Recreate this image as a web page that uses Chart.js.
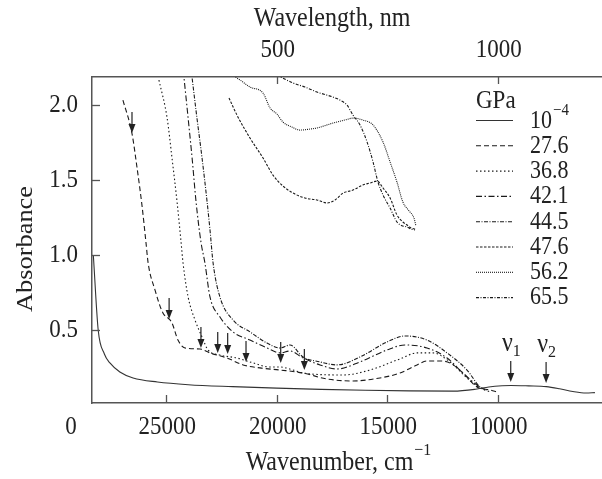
<!DOCTYPE html>
<html>
<head>
<meta charset="utf-8">
<script src="https://cdn.jsdelivr.net/npm/chart.js@4.4.1/dist/chart.umd.min.js"></script>
<style>
  html, body { margin: 0; padding: 0; background: #ffffff; }
  canvas { display: block; }
</style>
</head>
<body>
<canvas id="c" width="602" height="479"></canvas>
<script>
// ---------- data (wavenumber in cm^-1, absorbance) ----------
const seriesLabels = ['10^-4', '27.6', '36.8', '42.1', '44.5', '47.6', '56.2', '65.5'];

const wn_0 = [28300, 28080, 27800, 27550, 27100, 26500, 25400, 24000, 22000, 20000, 18000, 16000, 14000, 12000, 11000, 10400, 9800, 9400, 8600, 7800, 7200, 6600, 6000, 5600];
const abs_0 = [1.0, 0.5, 0.34, 0.28, 0.22, 0.18, 0.153, 0.135, 0.122, 0.112, 0.104, 0.098, 0.094, 0.092, 0.105, 0.12, 0.128, 0.13, 0.127, 0.122, 0.108, 0.09, 0.08, 0.082];

const wn_276 = [26960, 26550, 26320, 26100, 25920, 25820, 25510, 25150, 24870, 24740, 24470, 24150, 23470, 23020, 22250, 21520, 20760, 19850, 18810, 17720, 16550, 15330, 14420, 13650, 13200, 12610, 12160, 11570, 10940, 10350, 10030];
const abs_276 = [2.033, 1.81, 1.58, 1.333, 1.087, 0.947, 0.767, 0.613, 0.573, 0.547, 0.433, 0.38, 0.373, 0.347, 0.313, 0.267, 0.247, 0.233, 0.213, 0.173, 0.16, 0.18, 0.213, 0.267, 0.293, 0.293, 0.28, 0.213, 0.12, 0.1, 0.087];

const wn_368 = [25330, 24960, 24740, 24510, 24330, 24240, 24010, 23700, 23380, 23110, 22570, 21800, 21210, 20300, 19850, 19260, 18810, 17000, 15780, 14420, 13650, 12930, 12160, 11390, 10800, 10350];
const abs_368 = [2.167, 1.913, 1.647, 1.353, 1.087, 0.947, 0.72, 0.567, 0.453, 0.367, 0.333, 0.313, 0.287, 0.253, 0.253, 0.233, 0.213, 0.2, 0.233, 0.307, 0.347, 0.347, 0.287, 0.18, 0.113, 0.087];

const wn_421 = [24230, 24010, 23830, 23650, 23430, 23250, 23020, 22570, 21980, 21210, 20440, 19850, 19400, 18810, 18040, 17270, 16230, 15010, 14200, 13200, 12290, 11570, 10940, 10580];
const abs_421 = [2.23, 1.913, 1.647, 1.353, 1.087, 0.947, 0.72, 0.587, 0.487, 0.433, 0.38, 0.347, 0.36, 0.313, 0.267, 0.24, 0.287, 0.367, 0.4, 0.38, 0.313, 0.213, 0.133, 0.1];

const wn_445 = [23870, 23610, 23380, 23150, 23020, 22880, 22570, 21980, 21210, 20440, 19850, 19400, 18810, 18040, 17270, 16230, 15010, 14200, 13200, 12290, 11390, 10800, 10480];
const abs_445 = [2.23, 1.913, 1.647, 1.353, 1.167, 0.947, 0.72, 0.567, 0.487, 0.413, 0.38, 0.40, 0.32, 0.287, 0.267, 0.32, 0.42, 0.46, 0.433, 0.347, 0.233, 0.12, 0.1];

const wn_476 = [22160, 21800, 21210, 20620, 20170, 19720, 19260, 18720, 18180, 17720, 17360, 17000, 16550, 16100, 15780, 15460, 15190, 14870, 14560, 14290, 14100, 13920, 13740];
const abs_476 = [2.047, 1.933, 1.78, 1.647, 1.533, 1.46, 1.413, 1.38, 1.367, 1.347, 1.367, 1.413, 1.433, 1.467, 1.48, 1.493, 1.447, 1.38, 1.267, 1.22, 1.2, 1.18, 1.173];

const wn_562 = [22020, 21660, 21210, 20620, 20300, 19990, 19720, 19310, 18950, 18490, 18180, 17450, 16910, 16550, 16100, 15640, 15190, 14870, 14560, 14290, 13970, 13790, 13700];
const abs_562 = [2.2, 2.167, 2.12, 2.08, 1.98, 1.94, 1.887, 1.853, 1.833, 1.84, 1.847, 1.88, 1.9, 1.913, 1.9, 1.867, 1.753, 1.62, 1.487, 1.353, 1.287, 1.247, 1.193];

const wn_655 = [20000, 19260, 18720, 18180, 17450, 17140, 16820, 16550, 16230, 15910, 15640, 15420, 15190, 14870, 14560, 14290, 14100, 13920, 13740];
const abs_655 = [2.2, 2.147, 2.12, 2.087, 2.053, 2.033, 2.0, 1.933, 1.867, 1.753, 1.62, 1.487, 1.4, 1.313, 1.22, 1.193, 1.187, 1.173, 1.167];

// arrows marking features (wavenumber, absorbance at arrow tip)
const arrowWn = [26550, 24870, 23430, 22670, 22220, 21390, 19820, 18750, 9410, 7810];
const arrowAbs = [1.813, 0.573, 0.38, 0.347, 0.34, 0.287, 0.28, 0.233, 0.153, 0.147];
const nuLabels = ['', '', '', '', '', '', '', '', '1', '2'];

// ticks
const xTicks = [25000, 20000, 15000, 10000];
const yTicks = [0.5, 1.0, 1.5, 2.0];
const nmTicks = [500, 1000];

// ---------- build ----------
const wnSets = [wn_0, wn_276, wn_368, wn_421, wn_445, wn_476, wn_562, wn_655];
const absSets = [abs_0, abs_276, abs_368, abs_421, abs_445, abs_476, abs_562, abs_655];
const dashes = [[], [5, 3], [1.5, 2.5], [6, 2.5, 1.5, 2.5], [4, 1.5, 1, 1.5], [2.5, 1.5], [1, 1], [3, 1.5, 1, 1.5]];
const colors = ['#333', '#1a1a1a', '#1a1a1a', '#1a1a1a', '#1a1a1a', '#1a1a1a', '#1a1a1a', '#1a1a1a'];

const datasets = seriesLabels.map((lab, i) => ({
  label: lab,
  data: wnSets[i].map((w, j) => ({ x: w, y: absSets[i][j] })),
  borderColor: colors[i],
  borderWidth: 1.1,
  borderDash: dashes[i],
  pointRadius: 0,
  fill: false,
  cubicInterpolationMode: 'monotone'
}));

const FONT = '"Liberation Serif", "Times New Roman", serif';
const INK = '#222';
const AXIS = '#555';
const STRETCH = 1.1; // reference text is slightly taller than wide

// draw text vertically stretched, centered vertically at y
function txt(ctx, s, x, y, size, align) {
  ctx.save();
  ctx.translate(x, y);
  ctx.scale(1, STRETCH);
  ctx.font = size + 'px ' + FONT;
  ctx.textAlign = align || 'center';
  ctx.textBaseline = 'middle';
  ctx.fillText(s, 0, 0);
  ctx.restore();
}
function tw(ctx, s, size) { ctx.font = size + 'px ' + FONT; return ctx.measureText(s).width; }

const decor = {
  id: 'decor',
  afterDraw(chart) {
    const ctx = chart.ctx, ca = chart.chartArea;
    const xs = chart.scales.x, ys = chart.scales.y, xt = chart.scales.x2;
    ctx.save();
    // inward tick marks
    ctx.strokeStyle = AXIS; ctx.lineWidth = 1.3;
    const seg = (a, b, c, d) => { ctx.beginPath(); ctx.moveTo(a, b); ctx.lineTo(c, d); ctx.stroke(); };
    xs.ticks.forEach(t => { const p = Math.round(xs.getPixelForValue(t.value)) + 0.5; seg(p, ca.bottom, p, ca.bottom - 8); });
    xt.ticks.forEach(t => { const p = Math.round(xt.getPixelForValue(t.value)) + 0.5; seg(p, ca.top, p, ca.top + 7); });
    ys.ticks.forEach(t => { const p = Math.round(ys.getPixelForValue(t.value)) + 0.5; seg(ca.left, p, ca.left + 8, p); });

    ctx.fillStyle = INK;
    // tick labels
    xs.ticks.forEach(t => txt(ctx, String(t.value), xs.getPixelForValue(t.value) + 1, ca.bottom + 24.5, 23, 'center'));
    xt.ticks.forEach(t => txt(ctx, String(Math.round(1e7 / t.value)), xt.getPixelForValue(t.value) + 1, ca.top - 27, 23, 'center'));
    ys.ticks.forEach(t => txt(ctx, t.value.toFixed(1), ca.left - 14, ys.getPixelForValue(t.value), 23, 'right'));
    txt(ctx, '0', ca.left - 21, ca.bottom + 24.5, 23, 'center');

    // arrows
    ctx.strokeStyle = INK; ctx.fillStyle = INK; ctx.lineWidth = 1.2;
    arrowWn.forEach((w, i) => {
      const x = xs.getPixelForValue(w), y = ys.getPixelForValue(arrowAbs[i]);
      seg(x, y - 21, x, y - 6);
      ctx.beginPath(); ctx.moveTo(x, y); ctx.lineTo(x - 3.5, y - 9); ctx.lineTo(x + 3.5, y - 9); ctx.closePath(); ctx.fill();
      if (nuLabels[i]) {
        txt(ctx, '\u03BD', x + 2, y - 38, 24, 'right');
        txt(ctx, nuLabels[i], x + 2, y - 31, 16, 'left');
      }
    });

    // legend
    txt(ctx, 'GPa', 476, 101, 23, 'left');
    chart.data.datasets.forEach((ds, i) => {
      const y = 120 + i * 25.3;
      ctx.strokeStyle = ds.borderColor; ctx.lineWidth = ds.borderWidth; ctx.setLineDash(ds.borderDash);
      seg(476, y + 0.5, 513, y + 0.5);
      ctx.setLineDash([]);
      ctx.fillStyle = INK;
      const lab = ds.label;
      if (lab.indexOf('^') >= 0) {
        const parts = lab.split('^');
        txt(ctx, parts[0], 530, y + 2, 22, 'left');
        const w = tw(ctx, parts[0], 22);
        txt(ctx, parts[1].replace('-', '\u2212'), 530 + w + 1, y - 9, 15, 'left');
      } else {
        txt(ctx, lab, 530, y + 1, 22, 'left');
      }
    });

    // titles
    txt(ctx, 'Wavelength, nm', 332, 19, 24, 'center');
    const main = 'Wavenumber, cm', sup = '\u22121';
    const w1 = tw(ctx, main, 24), w2 = tw(ctx, sup, 16);
    const sx = 338 - (w1 + w2) / 2;
    txt(ctx, main, sx, 463, 24, 'left');
    txt(ctx, sup, sx + w1 + 1, 450, 16, 'left');
    // y title (rotated, stretched along its length)
    ctx.save();
    ctx.translate(26, 249); ctx.rotate(-Math.PI / 2); ctx.scale(STRETCH, 1);
    ctx.textAlign = 'center'; ctx.textBaseline = 'middle'; ctx.font = '24px ' + FONT;
    ctx.fillText('Absorbance', 0, 0);
    ctx.restore();
    ctx.restore();
  }
};

new Chart(document.getElementById('c'), {
  type: 'line',
  data: { datasets },
  options: {
    responsive: false,
    animation: false,
    devicePixelRatio: 1,
    layout: { padding: 0 },
    plugins: { legend: { display: false }, tooltip: { enabled: false } },
    scales: {
      x: {
        type: 'linear', position: 'bottom', reverse: true, min: 5280, max: 28360,
        afterFit: s => { s.height = 76; },
        afterBuildTicks: s => { s.ticks = xTicks.map(v => ({ value: v })); },
        grid: { drawOnChartArea: false, drawTicks: false },
        border: { display: true, color: AXIS, width: 1.5 },
        ticks: { display: false, autoSkip: false }
      },
      x2: {
        type: 'linear', position: 'top', reverse: true, min: 5280, max: 28360,
        afterFit: s => { s.height = 77; },
        afterBuildTicks: s => { s.ticks = nmTicks.map(nm => ({ value: 1e7 / nm })); },
        grid: { drawOnChartArea: false, drawTicks: false },
        border: { display: true, color: AXIS, width: 1.5 },
        ticks: { display: false, autoSkip: false }
      },
      y: {
        type: 'linear', position: 'left', min: 0.013, max: 2.187,
        afterFit: s => { s.width = 92; },
        afterBuildTicks: s => { s.ticks = yTicks.map(v => ({ value: v })); },
        grid: { drawOnChartArea: false, drawTicks: false },
        border: { display: true, color: AXIS, width: 1.5 },
        ticks: { display: false, autoSkip: false }
      }
    }
  },
  plugins: [decor]
});
</script>
</body>
</html>
